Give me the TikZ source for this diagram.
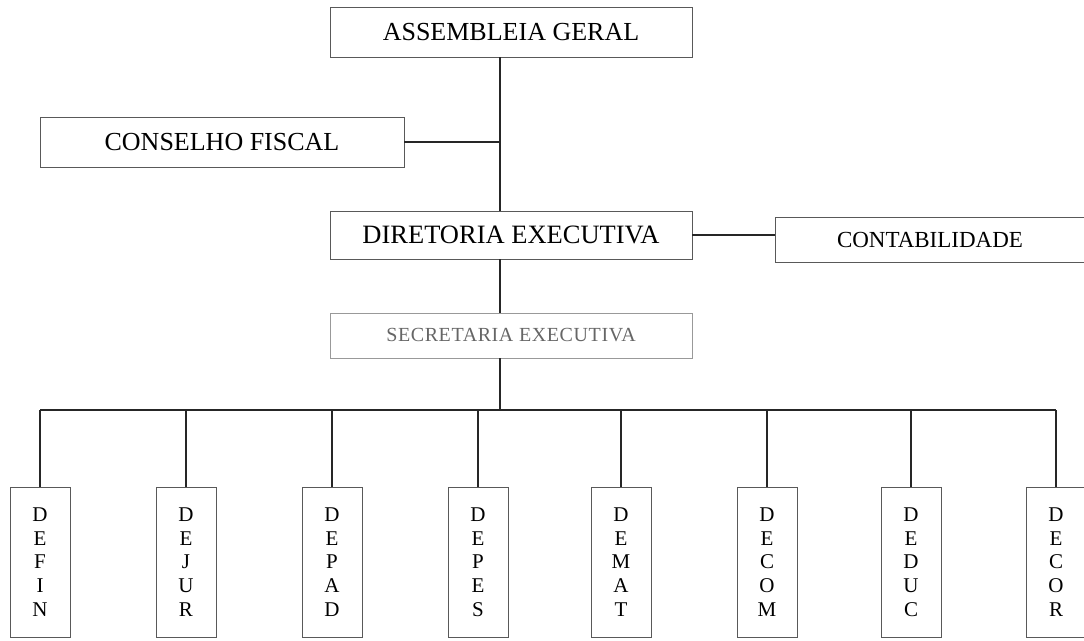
\documentclass[tikz,border=0pt]{standalone}
\usepackage{fontspec}
\setmainfont{Liberation Serif}
\begin{document}
\begin{tikzpicture}[x=1pt,y=-1pt,
    caixa/.style={draw=black!65, line width=0.9pt, inner sep=0pt},
    depto/.style={caixa, minimum width=60, minimum height=150, align=center,
      font=\fontsize{21}{23.7}\selectfont},
    liga/.style={line width=1.5pt, black!85}]
  \useasboundingbox (0,0) rectangle (1084,640);

  \coordinate (eixo) at (500,0);
  \coordinate (barra) at (0,410);

  \node[caixa, minimum width=362, minimum height=50, font=\fontsize{26}{30}\selectfont] (ag) at (511,32) {ASSEMBLEIA GERAL};
  \node[caixa, minimum width=364, minimum height=50, font=\fontsize{26}{30}\selectfont] (cf) at (222,142) {CONSELHO FISCAL};
  \node[caixa, minimum width=362, minimum height=48, font=\fontsize{26.5}{30}\selectfont] (de) at (511,235) {DIRETORIA EXECUTIVA};
  \node[caixa, minimum width=310, minimum height=45, font=\fontsize{23}{26}\selectfont] (ct) at (930,239.5) {CONTABILIDADE};
  \node[caixa, draw=black!40, text=black!60, minimum width=362, minimum height=45,
    font=\fontsize{20}{24}\selectfont\addfontfeature{LetterSpace=3}] (se) at (511,335.5) {SECRETARIA EXECUTIVA};

  \draw[liga] (ag.south -| eixo) -- (de.north -| eixo);
  \draw[liga] (cf.east) -- (cf.east -| eixo);
  \draw[liga] (de.east) -- (de.east -| ct.west);
  \draw[liga] (de.south -| eixo) -- (se.north -| eixo);
  \draw[liga] (se.south -| eixo) -- (eixo |- barra);

  % departamentos
  \foreach \nome/\sigla/\x in {defin/D\\E\\F\\I\\N/40, dejur/D\\E\\J\\U\\R/186,
      depad/D\\E\\P\\A\\D/332, depes/D\\E\\P\\E\\S/478, demat/D\\E\\M\\A\\T/621,
      decom/D\\E\\C\\O\\M/767, deduc/D\\E\\D\\U\\C/911, decor/D\\E\\C\\O\\R/1056}
  {
    \node[depto] (\nome) at (\x,562) {\sigla};
    \draw[liga] (\nome.north) -- (\nome.north |- barra);
  }
  \draw[liga] (defin.north |- barra) -- (decor.north |- barra);
\end{tikzpicture}
\end{document}
